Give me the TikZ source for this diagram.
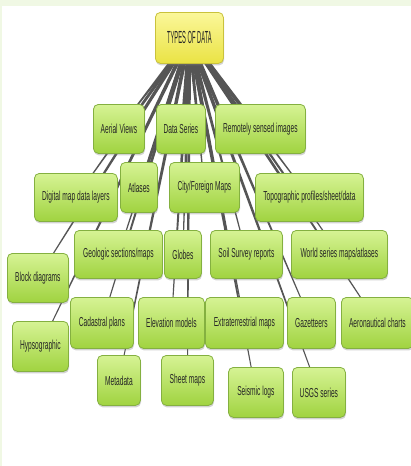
\documentclass[tikz,border=0pt]{standalone}
\usepackage{fontspec}
\newfontfamily\nodefont{Liberation Sans}[FakeStretch=0.51]
\newfontfamily\rootfont{Liberation Sans}[FakeStretch=0.33]
\usetikzlibrary{calc,shadows,backgrounds}
\definecolor{bgtint}{HTML}{F0F8E4}
\definecolor{gtop}{HTML}{D6F394}
\definecolor{gbot}{HTML}{A0D340}
\definecolor{gline}{HTML}{84B040}
\definecolor{ytop}{HTML}{FBF79A}
\definecolor{ybot}{HTML}{EAE344}
\definecolor{yline}{HTML}{C9C23C}
\definecolor{conncol}{HTML}{555555}
\pgfdeclarelayer{back}
\pgfdeclarelayer{wires}
\pgfsetlayers{back,wires,main}
\tikzset{
  box/.style={draw=gline, line width=0.8pt, rounded corners=5pt,
    top color=gtop, bottom color=gbot, anchor=north west, inner sep=0pt,
    font=\nodefont\fontsize{13}{15}\selectfont, text=black!85,
    drop shadow={opacity=0.35, shadow xshift=0.6pt, shadow yshift=-2pt}},
  rootbox/.style={box, draw=yline, top color=ytop, bottom color=ybot,
    font=\rootfont\fontsize{17.5}{19}\selectfont},
  wire/.style={fill=conncol}
}
\newcommand{\wireto}[1]{%
  \fill[wire] ($(root.center)!2pt!90:(#1.center)$) --
    ($(root.center)!2pt!-90:(#1.center)$) --
    ($(#1.center)!0.4pt!90:(root.center)$) --
    ($(#1.center)!0.4pt!-90:(root.center)$) -- cycle;}
\begin{document}
\begin{tikzpicture}[x=1pt,y=-1pt]
\useasboundingbox (0,0) rectangle (411,466);
\begin{pgfonlayer}{back}
  \fill[bgtint] (0,0) rectangle (411,466);
  \fill[white] (2,6) rectangle (411,466);
\end{pgfonlayer}
% nodes placed by their top-left corner, sized in pixels
\node[rootbox, minimum width=68, minimum height=51] (root) at (155,12) {TYPES OF DATA};
\node[box, minimum width=51, minimum height=49] (aerial) at (93,104) {Aerial Views};
\node[box, minimum width=49, minimum height=49] (dseries) at (156,104) {Data Series};
\node[box, minimum width=90, minimum height=49] (remote) at (215,104) {Remotely sensed images};
\node[box, minimum width=83, minimum height=48] (digital) at (34,173) {Digital map data layers};
\node[box, minimum width=37, minimum height=50] (atlases) at (120,162) {Atlases};
\node[box, minimum width=70, minimum height=50] (city) at (169,162) {City/Foreign Maps};
\node[box, minimum width=108, minimum height=48] (topo) at (255,173) {Topographic profiles/sheet/data};
\node[box, minimum width=61, minimum height=49] (block) at (7,253) {Block diagrams};
\node[box, minimum width=88, minimum height=48] (geologic) at (74,230) {Geologic sections/maps};
\node[box, minimum width=37, minimum height=48] (globes) at (164,230) {Globes};
\node[box, minimum width=72, minimum height=48] (soil) at (210,230) {Soil Survey reports};
\node[box, minimum width=96, minimum height=48] (world) at (291,230) {World series maps/atlases};
\node[box, minimum width=63, minimum height=51] (cadastral) at (70,297) {Cadastral plans};
\node[box, minimum width=56, minimum height=50] (hypso) at (12,321) {Hypsographic};
\node[box, minimum width=66, minimum height=51] (elevation) at (138,297) {Elevation models};
\node[box, minimum width=78, minimum height=51] (extra) at (205,297) {Extraterrestrial maps};
\node[box, minimum width=48, minimum height=51] (gaz) at (287,297) {Gazetteers};
\node[box, minimum width=72, minimum height=51] (aero) at (341,297) {Aeronautical charts};
\node[box, minimum width=43, minimum height=50] (metadata) at (97,355) {Metadata};
\node[box, minimum width=52, minimum height=50] (sheet) at (161,355) {Sheet maps};
\node[box, minimum width=55, minimum height=50] (seismic) at (228,367) {Seismic logs};
\node[box, minimum width=53, minimum height=50] (usgs) at (292,367) {USGS series};
\begin{pgfonlayer}{wires}
  \foreach \t in {aerial,dseries,remote,digital,atlases,city,topo,block,geologic,
    globes,soil,world,cadastral,hypso,elevation,extra,gaz,aero,metadata,sheet,
    seismic,usgs}{\wireto{\t}}
\end{pgfonlayer}
\end{tikzpicture}
\end{document}
